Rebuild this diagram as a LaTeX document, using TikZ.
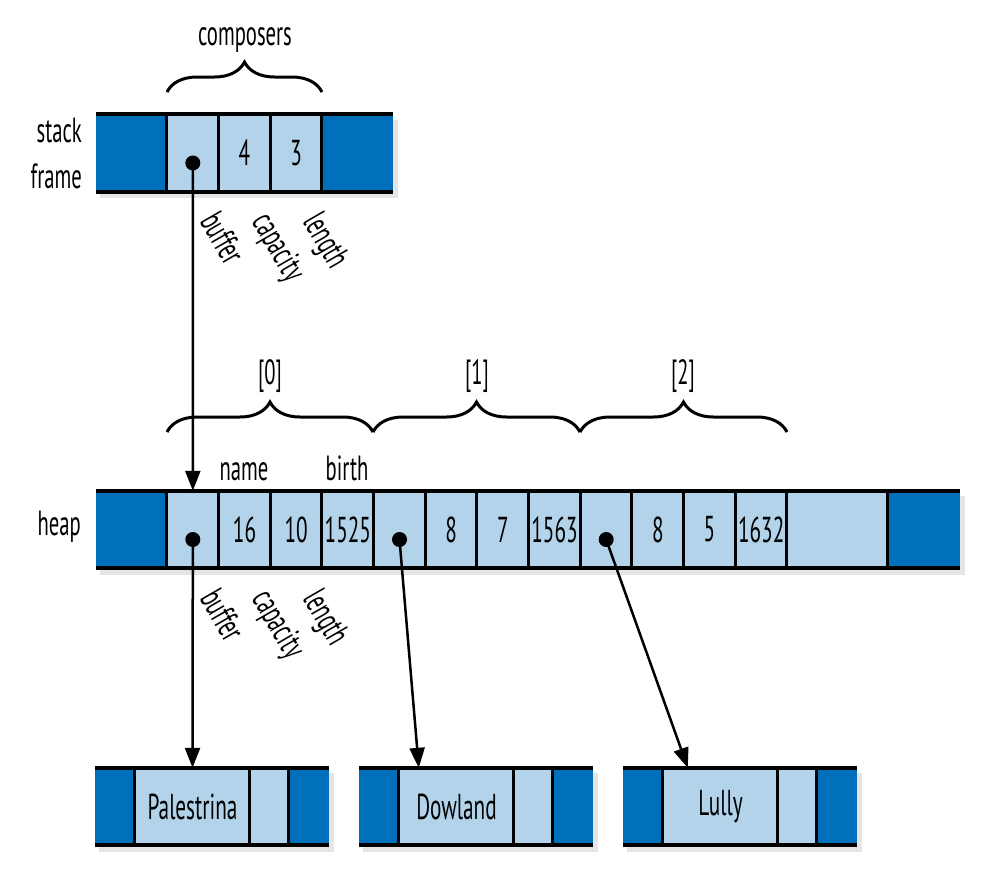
\documentclass[tikz,border=0pt]{standalone}
\usepackage{fontspec}
\setmainfont[FakeStretch=0.59]{PT Sans}
\usetikzlibrary{arrows.meta,decorations.pathreplacing,calc}
\definecolor{darkb}{RGB}{0,112,187}
\definecolor{lightb}{RGB}{178,211,234}
\begin{document}
\begin{tikzpicture}[x=1pt,y=-1pt,
  cellbox/.style={fill=lightb, draw=none, inner sep=0pt, minimum height=77pt, font=\fontsize{36}{40}\selectfont},
  endbox/.style={fill=darkb, draw=none, inner sep=0pt, minimum height=77pt},
  sepline/.style={line width=3pt},
  rail/.style={line width=4pt},
  lbl/.style={font=\fontsize{35}{40}\selectfont, inner sep=0pt},
  rlbl/.style={font=\fontsize{35}{40}\selectfont, inner sep=0pt, rotate=-60, anchor=base west},
  ptr/.style={line width=2.5pt, -{Triangle[length=20pt,width=15pt]}},
  dotn/.style={circle, fill=black, minimum size=15pt, inner sep=0pt},
  bracepath/.style={line width=3pt, decorate, decoration={brace, amplitude=30pt}},
  shadowc/.style={fill=black, opacity=0.10}
]
\useasboundingbox (0,0) rectangle (992,868);

% ---------- shadows ----------
\fill[shadowc] (100,120) rectangle (398,198);
\fill[shadowc] (100,496) rectangle (965,575);
\foreach \x in {95,359,623} {
  \fill[shadowc] ({\x+4},773) rectangle ({\x+239},852);
}

% ---------- stack frame ----------
\node[endbox, minimum width=71pt] (sL) at (131.5,153) {};
\node[cellbox, minimum width=51.67pt] (s1) at (192.83,153) {};
\node[cellbox, minimum width=51.67pt] (s2) at (244.5,153) {4};
\node[cellbox, minimum width=51.67pt] (s3) at (296.17,153) {3};
\node[endbox, minimum width=71pt] (sR) at (357.5,153) {};
\foreach \n in {s1,s2,s3,sR} {
  \draw[sepline] (\n.north west) -- (\n.south west);
}
\draw[rail] (sL.north west) -- (sR.north east);
\draw[rail] (sL.south west) -- (sR.south east);

\node[lbl, align=right, anchor=east, font=\fontsize{35}{46}\selectfont] (stacklbl) at (82,153) {stack\\frame};

\node[lbl] (comp) at (245,40) {composers};
\draw[bracepath] (167,92) -- (322,92);

\node[rlbl] (sbuf) at (199,221) {buffer};
\node[rlbl] (scap) at (251,221) {capacity};
\node[rlbl] (slen) at (302,221) {length};

% ---------- heap ----------
\node[endbox, minimum width=71pt] (hL) at (131.5,529.5) {};
\foreach \t [count=\i] in {{},16,10,1525,{},8,7,1563,{},8,5,1632} {
  \node[cellbox, minimum width=51.67pt] (h\i) at ({167+(\i-0.5)*51.667},529.5) {\t};
  \draw[sepline] (h\i.north west) -- (h\i.south west);
}
\node[cellbox, minimum width=101pt] (hE) at (837.5,529.5) {};
\node[endbox, minimum width=72pt] (hR) at (924,529.5) {};
\draw[sepline] (hE.north west) -- (hE.south west);
\draw[sepline] (hR.north west) -- (hR.south west);
\draw[rail] (hL.north west) -- (hR.north east);
\draw[rail] (hL.south west) -- (hR.south east);

\node[lbl, anchor=east] (heaplbl) at (81,527) {heap};

\node[lbl, anchor=base] (namelbl) at (244,480) {name};
\node[lbl, anchor=base] (birthlbl) at (347,480) {birth};

\draw[bracepath] (167,432) -- (373,432);
\draw[bracepath] (373,432) -- (580,432);
\draw[bracepath] (580,432) -- (787,432);
\node[lbl] (i0) at (270,376) {[0]};
\node[lbl] (i1) at (477,376) {[1]};
\node[lbl] (i2) at (683,376) {[2]};

\node[rlbl] (hbuf) at (199,598) {buffer};
\node[rlbl] (hcap) at (251,598) {capacity};
\node[rlbl] (hlen) at (302,598) {length};

% ---------- string buffers ----------
\foreach \x/\n/\t in {95/1/Palestrina, 359/2/Dowland, 623/3/Lully} {
  \node[endbox, minimum width=40pt] (bL\n) at ({\x+20},806.5) {};
  \node[cellbox, minimum width=115pt] (b\n) at ({\x+97.5},806.5) {\t};
  \node[cellbox, minimum width=39pt] (bs\n) at ({\x+174.5},806.5) {};
  \node[endbox, minimum width=40pt] (bR\n) at ({\x+214},806.5) {};
  \draw[sepline] (b\n.north west) -- (b\n.south west);
  \draw[sepline] (bs\n.north west) -- (bs\n.south west);
  \draw[sepline] (bR\n.north west) -- (bR\n.south west);
  \draw[rail] (bL\n.north west) -- (bR\n.north east);
  \draw[rail] (bL\n.south west) -- (bR\n.south east);
}

% ---------- pointers ----------
\node[dotn] (sd) at ($(s1.center)+(0,10)$) {};
\node[dotn] (hd1) at ($(h1.center)+(0,10)$) {};
\node[dotn] (hd2) at ($(h5.center)+(0,10)$) {};
\node[dotn] (hd3) at ($(h9.center)+(0,10)$) {};
\coordinate (t2) at ($(b2.north west)+(20,0)$);
\coordinate (t3) at ($(b3.north west)+(25,0)$);

\draw[ptr] (sd.center) -- (h1.north);
\draw[ptr] (hd1.center) -- (b1.north);
\draw[ptr] (hd2.center) -- (t2);
\draw[ptr] (hd3.center) -- (t3);
\end{tikzpicture}
\end{document}
